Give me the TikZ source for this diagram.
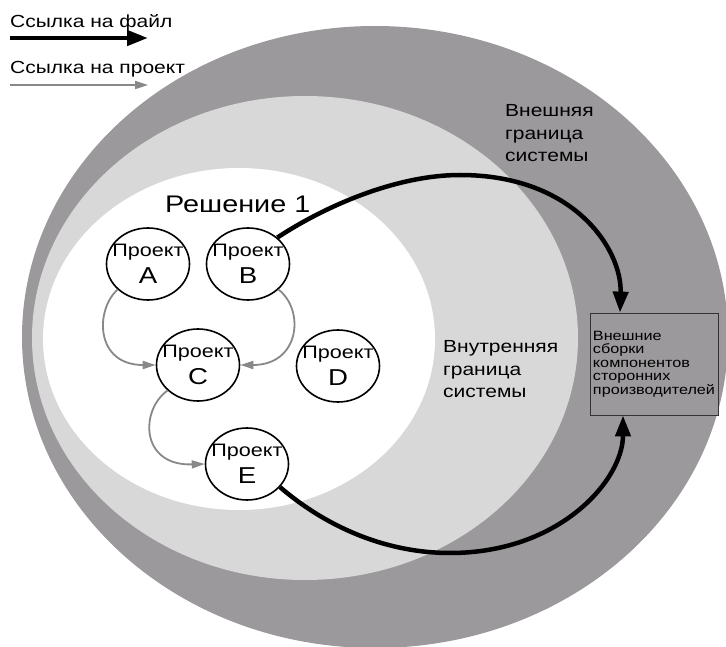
\documentclass[tikz,border=0pt]{standalone}
\usepackage{fontspec}
\setmainfont{Liberation Sans}[FakeStretch=1.2]
\usetikzlibrary{shapes.geometric,arrows.meta}

\definecolor{outerzone}{RGB}{155,153,155}
\definecolor{innerzone}{RGB}{216,216,216}
\definecolor{projlink}{RGB}{136,136,136}

\newcommand\fsz[2]{\fontsize{#1}{#2}\selectfont}
\newcommand\boxfont{\fontsize{13.5}{13.5}\selectfont\lineskiplimit=-20pt\relax}

\begin{document}
\begin{tikzpicture}[x=1pt,y=-1pt,
  project/.style={draw, line width=1.6pt, ellipse, minimum width=83pt,
    minimum height=72pt, inner xsep=-10pt, inner ysep=-6pt, align=center,
    font=\fsz{18}{27}},
  filelink/.style={line width=4.5pt, -{Triangle[length=21pt,width=15pt]}},
  projectlink/.style={draw=projlink, line width=1.8pt,
    -{Triangle[length=13pt,width=8pt]}, color=projlink},
  caption/.style={inner sep=0pt, align=left, anchor=north west,
    font=\fsz{17.5}{22.5}},
  legendtext/.style={inner sep=0pt, anchor=base west, font=\fsz{17.5}{20}},
]
\useasboundingbox (0,0) rectangle (726,647);
\clip (0,0) rectangle (726,647);

% nested system boundaries
\fill[outerzone] (375,337) ellipse [x radius=353, y radius=311];
\fill[innerzone] (305,338) ellipse [x radius=273, y radius=242];
\fill[white]     (239,339) ellipse [x radius=196, y radius=171];

% legend
\node[legendtext] (lgfile) at (10,28) {Ссылка на файл};
\coordinate (lgfa) at (10,38);
\coordinate (lgfb) at (148,38);
\draw[filelink] (lgfa) -- (lgfb);
\node[legendtext] (lgproj) at (10,74) {Ссылка на проект};
\coordinate (lgpa) at (10,85);
\coordinate (lgpb) at (148,85);
\draw[projectlink] (lgpa) -- (lgpb);

% zone captions
\node[caption] (outerlbl) at (505,104.5) {Внешняя\\граница\\системы};
\node[caption] (innerlbl) at (443,340.5) {Внутренняя\\граница\\системы};
\node[inner sep=0pt, anchor=base west, font=\fsz{24}{24}] (sol) at (165,213) {Решение 1};

% projects of the solution
\node[project] (A) at (148,264) {Проект\\{\fsz{23}{27}A}};
\node[project] (B) at (248,264) {Проект\\{\fsz{23}{27}B}};
\node[project] (C) at (198,365) {Проект\\{\fsz{23}{27}C}};
\node[project] (D) at (338,366) {Проект\\{\fsz{23}{27}D}};
\node[project] (E) at (247,464) {Проект\\{\fsz{23}{27}E}};

% third-party assemblies
\node[draw=black!80, fill=outerzone, line width=0.8pt, minimum width=128pt,
  minimum height=102pt, align=left, inner sep=2pt, font=\boxfont] (ext) at (654,364)
  {Внешние\\сборки\\компонентов\\сторонних\\производителей};

% project references
\draw[projectlink] (A.220) .. controls (95,310) and (95,365) .. (C.west);
\draw[projectlink] (B.-40) .. controls (305,310) and (300,365) .. (C.east);
\draw[projectlink] (C.220) .. controls (140,410) and (140,466) .. (E.west);

% file references
\draw[filelink] (B.42) .. controls (330,203) and (400,175) .. (460,175)
  .. controls (575,175) and (622,250) .. ([xshift=-34pt]ext.north);
\draw[filelink] (E.-35) .. controls (330,530) and (390,553) .. (450,553)
  .. controls (560,553) and (623,480) .. ([xshift=-31pt]ext.south);
\end{tikzpicture}
\end{document}
